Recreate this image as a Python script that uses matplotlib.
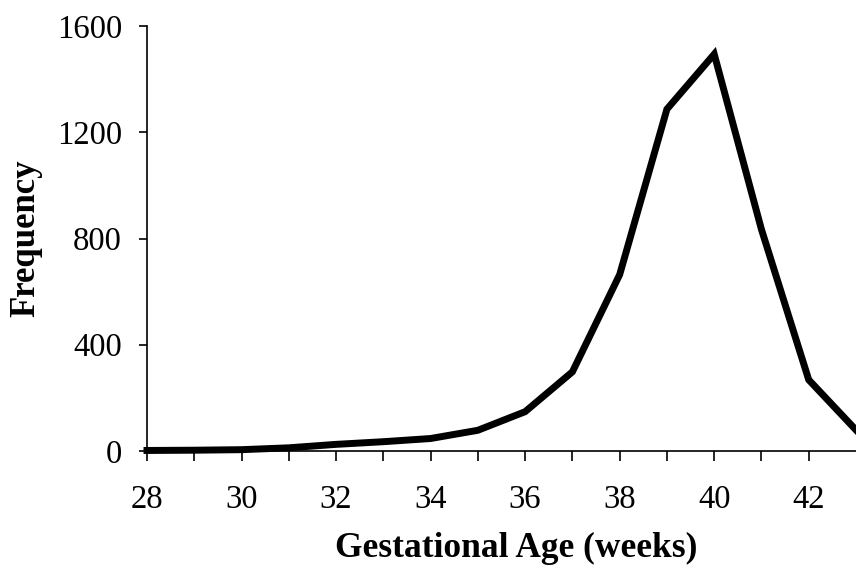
import numpy as np
import matplotlib.pyplot as plt

weeks = [28, 29, 30, 31, 32, 33, 34, 35, 36, 37, 38, 39, 40, 41, 42, 43]
freq = [2, 3, 5, 12, 25, 35, 47, 78, 148, 298, 664, 1287, 1494, 834, 268, 79]
y_ticks = [0, 400, 800, 1200, 1600]

plt.rcParams['font.family'] = ['Liberation Serif', 'DejaVu Serif']

fig = plt.figure(figsize=(8.56, 5.71), dpi=100)
ax = fig.add_axes([147 / 856, 1 - 451 / 571, 1 - 147 / 856, (451 - 26) / 571])

ax.plot(weeks, freq, color='black', linewidth=5, solid_joinstyle='miter', clip_on=False)

ax.set_xlim(28, 43)
ax.set_ylim(0, 1600)
ax.set_xticks(range(28, 43, 2))
ax.set_xticks(range(29, 43, 2), minor=True)
ax.set_yticks(y_ticks)

for s in ['top', 'right']:
    ax.spines[s].set_visible(False)
for s in ['left', 'bottom']:
    ax.spines[s].set_linewidth(1.2)

ax.tick_params(axis='x', which='both', direction='out', length=7, width=1.2, pad=17, labelsize=23.5)
ax.tick_params(axis='y', direction='out', length=6, width=1.2, pad=12, labelsize=23.5)

ax.set_ylabel('Frequency', fontsize=25, fontweight='bold')
ax.yaxis.set_label_coords((26 - 147) / 709, 0.5)
ax.set_xlabel('Gestational Age (weeks)', fontsize=25.5, fontweight='bold')
ax.xaxis.set_label_coords((516 - 147) / 709, (451 - 548) / 425)
ax.xaxis.label.set_va('center')
ax.yaxis.label.set_va('center')

fig.savefig('out.png', dpi=100)
